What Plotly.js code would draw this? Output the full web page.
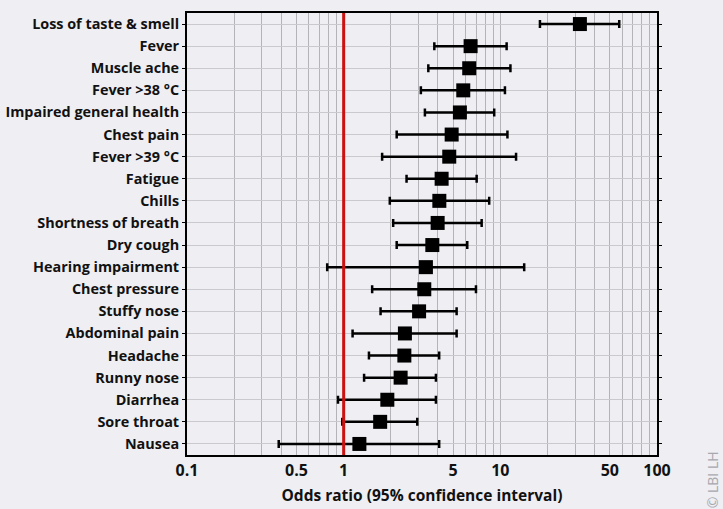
<!DOCTYPE html>
<html>
<head>
<meta charset="utf-8">
<script src="https://cdn.plot.ly/plotly-3.0.1.min.js"></script>
<style>html,body{margin:0;padding:0;background:#eeeef3;}#chart{width:723px;height:509px;}</style>
</head>
<body>
<div id="chart"></div>
<script>
const symptoms = ["Loss of taste & smell","Fever","Muscle ache","Fever >38 °C","Impaired general health","Chest pain","Fever >39 °C","Fatigue","Chills","Shortness of breath","Dry cough","Hearing impairment","Chest pressure","Stuffy nose","Abdominal pain","Headache","Runny nose","Diarrhea","Sore throat","Nausea"];
const oddsRatio = [32.2,6.46,6.33,5.80,5.52,4.89,4.72,4.22,4.08,3.98,3.68,3.35,3.27,3.03,2.46,2.44,2.31,1.90,1.71,1.26];
const ciLower   = [17.9,3.79,3.47,3.11,3.30,2.18,1.76,2.52,1.97,2.07,2.18,0.785,1.52,1.72,1.14,1.45,1.35,0.92,0.98,0.385];
const ciUpper   = [57.4,10.97,11.6,10.7,9.14,11.1,12.6,7.06,8.49,7.60,6.15,14.2,6.99,5.26,5.26,4.07,3.88,3.88,2.95,4.07];
const gridVals  = [0.1,0.2,0.3,0.4,0.5,0.6,0.7,0.8,0.9,1,2,3,4,5,6,7,8,9,10,20,30,40,50,60,70,80,90,100];
const labelVals = [0.1,0.5,1,5,10,50,100];
const labelText = ["0.1","0.5","1","5","10","50","100"];
const refValue = 1;

const tickText = gridVals.map(v => { const i = labelVals.indexOf(v); return i >= 0 ? labelText[i] : ""; });

const trace = {
  type: "scatter", mode: "markers",
  x: oddsRatio, y: symptoms,
  marker: {symbol: "square", size: 14, color: "#000"},
  error_x: {
    type: "data", symmetric: false,
    array: oddsRatio.map((v,i) => ciUpper[i] - v),
    arrayminus: oddsRatio.map((v,i) => v - ciLower[i]),
    color: "#000", thickness: 2.5, width: 4
  },
  hoverinfo: "x+y"
};

const font = "Open Sans, Noto Sans, sans-serif";
const layout = {
  width: 723, height: 509,
  margin: {l: 187, r: 66, t: 13, b: 54},
  paper_bgcolor: "#eeeef3", plot_bgcolor: "#eeeef3",
  showlegend: false,
  font: {family: font, color: "#111"},
  xaxis: {
    type: "log", range: [-1, 2],
    tickvals: gridVals, ticktext: tickText,
    tickfont: {family: font, size: 16, weight: "bold", color: "#111"},
    showgrid: true, gridcolor: "#b4b4b8", gridwidth: 1,
    zeroline: false,
    showline: true, linecolor: "#000", linewidth: 2, mirror: true,
    ticks: "",
    title: {text: "Odds ratio (95% confidence interval)", font: {family: font, size: 15.5, weight: "bold", color: "#111"}, standoff: 10}
  },
  yaxis: {
    type: "category", categoryorder: "array", categoryarray: symptoms,
    range: [19.5, -0.5],
    tickfont: {family: font, size: 14.4, weight: "bold", color: "#111"},
    showgrid: true, gridcolor: "#cacace", gridwidth: 1,
    showline: true, linecolor: "#000", linewidth: 2, mirror: "ticks",
    ticks: "outside", ticklen: 3, tickcolor: "#000", tickwidth: 1
  },
  shapes: [{
    type: "line", xref: "x", yref: "paper",
    x0: refValue, x1: refValue, y0: 0, y1: 1,
    line: {color: "#cc1111", width: 3}
  }],
  annotations: [{
    xref: "paper", yref: "paper", x: 1.117, y: -0.055,
    xanchor: "center", yanchor: "middle",
    text: "© LBI LH", textangle: -90, showarrow: false,
    font: {family: font, size: 14, color: "#a8a8ae"}
  }]
};

Plotly.newPlot("chart", [trace], layout, {displayModeBar: false, staticPlot: true});
</script>
</body>
</html>
